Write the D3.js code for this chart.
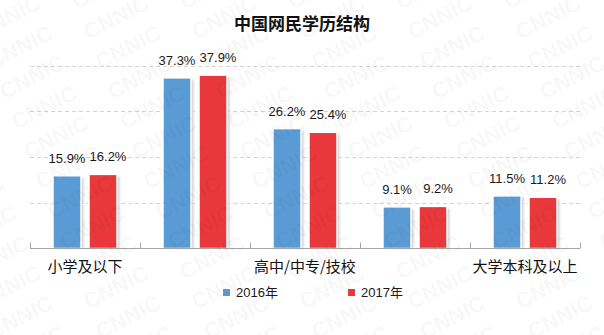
<!DOCTYPE html>
<html>
<head>
<meta charset="utf-8">
<script src="https://cdn.jsdelivr.net/npm/d3@7"></script>
<style>
  html, body { margin: 0; padding: 0; background: #fff; }
  svg { display: block; }
</style>
</head>
<body>
<svg id="chart" width="604" height="335"></svg>
<script>
// Education level of Chinese internet users (%)
const title = "中国网民学历结构";
const categories = ["小学及以下", "初中", "高中/中专/技校", "大专", "大学本科及以上"];
const seriesNames = ["2016年", "2017年"];
const values2016 = [15.9, 37.3, 26.2, 9.1, 11.5];
const values2017 = [16.2, 37.9, 25.4, 9.2, 11.2];
const gridTicks = [10, 20, 30, 40];
const seriesColors = ["#5B9BD5", "#E8383B"];

const W = 604, H = 335;
const svg = d3.select("#chart");
const cjk = "'Noto Sans CJK SC', 'Liberation Sans', sans-serif";
const latin = "'Liberation Sans', Arial, 'Noto Sans CJK SC', sans-serif";

const x = d3.scaleBand().domain(categories).range([30, 580]).padding(0);
const groupW = 64;
const xs = d3.scaleBand().domain(seriesNames)
  .range([(x.bandwidth() - groupW) / 2, (x.bandwidth() + groupW) / 2])
  .paddingInner(8 / 36).paddingOuter(0);
const y = d3.scaleLinear().domain([0, 40]).range([248.5, 65.5]);

const defs = svg.append("defs");
defs.append("filter").attr("id", "soft")
  .attr("x", "-20%").attr("y", "-20%").attr("width", "140%").attr("height", "140%")
  .append("feGaussianBlur").attr("stdDeviation", 0.8);

// dashed grid
svg.append("g").selectAll("line").data(gridTicks).join("line")
  .attr("x1", 30).attr("x2", 580)
  .attr("y1", d => Math.round(y(d)) + 0.5).attr("y2", d => Math.round(y(d)) + 0.5)
  .attr("stroke", "#d4d4d4").attr("stroke-width", 1)
  .attr("stroke-dasharray", "4,3");

// bars
const rows = categories.map((c, i) => ({ cat: c, vals: [values2016[i], values2017[i]] }));
const groups = svg.append("g").selectAll("g").data(rows).join("g")
  .attr("transform", d => `translate(${x(d.cat)},0)`);

const cells = groups.selectAll("g").data(d => d.vals.map((v, k) => ({ v, k, s: seriesNames[k] })))
  .join("g");

cells.append("rect")
  .attr("x", d => xs(d.s) + 2.5).attr("y", d => y(d.v) + 2)
  .attr("width", xs.bandwidth()).attr("height", d => y(0) - y(d.v) - 2)
  .attr("fill", "#d2d2d2").attr("filter", "url(#soft)");

cells.append("rect")
  .attr("x", d => xs(d.s)).attr("y", d => y(d.v))
  .attr("width", xs.bandwidth()).attr("height", d => y(0) - y(d.v))
  .attr("fill", d => seriesColors[d.k])
  .attr("stroke", "#fff").attr("stroke-width", 1.5);

// value labels; the second series' label is nudged right so the pair doesn't collide
cells.append("text")
  .attr("x", d => xs(d.s) + xs.bandwidth() / 2 + (d.k === 1 ? 5 : 0))
  .attr("y", d => y(d.v) - 13)
  .attr("text-anchor", "middle")
  .attr("font-family", latin).attr("font-size", 13)
  .attr("fill", "#1a1a1a")
  .text(d => d.v.toFixed(1) + "%");

// category axis with inside tick marks
const axisY = y(0);
const axis = svg.append("g");
axis.append("line").attr("x1", 30).attr("x2", 580)
  .attr("y1", axisY).attr("y2", axisY)
  .attr("stroke", "#a6a6a6").attr("stroke-width", 1);
const bounds = categories.map(c => x(c)).concat([x.range()[1]]);
axis.selectAll("line.tick").data(bounds).join("line").attr("class", "tick")
  .attr("x1", d => Math.round(d) + 0.5).attr("x2", d => Math.round(d) + 0.5)
  .attr("y1", axisY - 6).attr("y2", axisY)
  .attr("stroke", "#a6a6a6").attr("stroke-width", 1);

// every other category label, as the axis has room for
axis.selectAll("text").data(categories.filter((c, i) => i % 2 === 0)).join("text")
  .attr("x", d => x(d) + x.bandwidth() / 2)
  .attr("y", 272)
  .attr("text-anchor", "middle")
  .attr("font-family", cjk).attr("font-size", 15)
  .attr("fill", "#111")
  .text(d => d);

// title
svg.append("text").attr("x", 302).attr("y", 30)
  .attr("text-anchor", "middle")
  .attr("font-family", cjk).attr("font-size", 17).attr("font-weight", "bold")
  .attr("fill", "#111").text(title);

// legend
const legendX = [223, 348];
const lg = svg.append("g").selectAll("g").data(seriesNames).join("g")
  .attr("transform", (d, i) => `translate(${legendX[i]},289)`);
lg.append("rect").attr("width", 7).attr("height", 7)
  .attr("fill", (d, i) => seriesColors[i]);
lg.append("text").attr("x", 13).attr("y", 8)
  .attr("font-family", latin).attr("font-size", 13)
  .attr("fill", "#1a1a1a").text(d => d);

// tiled CNNIC watermark
const wm = svg.append("g").attr("pointer-events", "none");
const marks = [];
for (let j = -2; j < 14; j++) {
  for (let i = -2; i < 8; i++) {
    const cy = 47 + j * 30;
    const cx = 20 + i * 108 + (cy - 47) * 0.4;
    if (cx > -60 && cx < W + 60 && cy > -30 && cy < H + 30) marks.push([cx, cy]);
  }
}
wm.selectAll("text").data(marks).join("text")
  .attr("transform", d => `translate(${d[0]},${d[1]}) rotate(-27)`)
  .attr("text-anchor", "middle").attr("dy", "0.35em")
  .attr("font-family", "'Liberation Sans', Arial, sans-serif")
  .attr("font-weight", "bold").attr("font-size", 22)
  .attr("fill", "#000").attr("fill-opacity", 0.04)
  .text("CNNIC");
</script>
</body>
</html>
